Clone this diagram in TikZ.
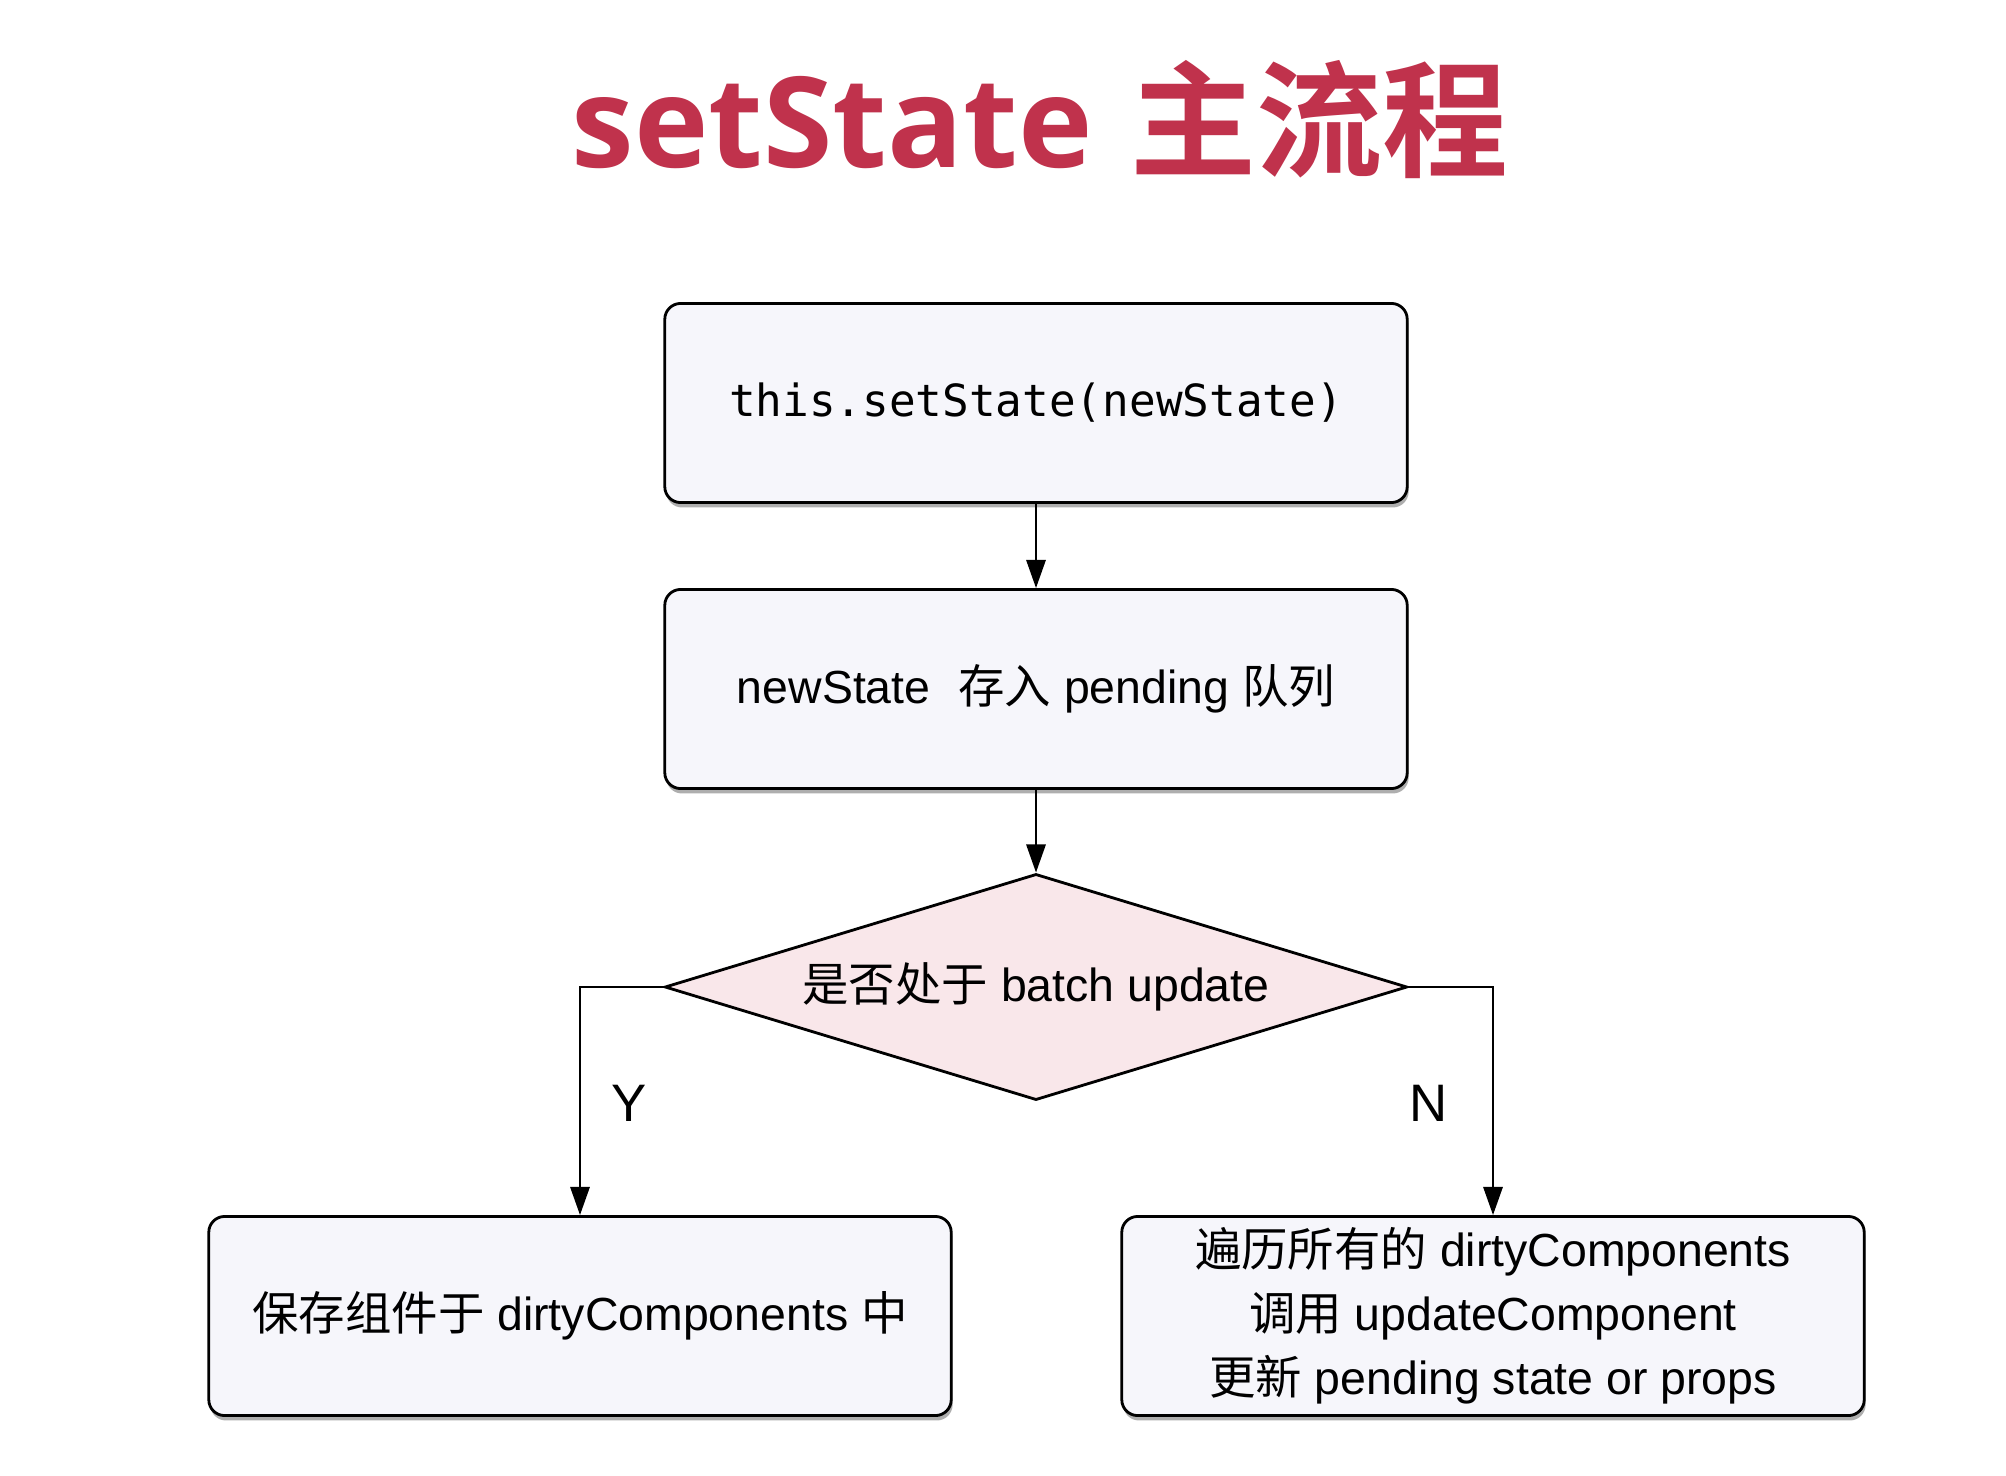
\documentclass[tikz,border=0pt]{standalone}
\usepackage{fontspec}
\setmainfont{Liberation Sans}
\setmonofont{DejaVu Sans Mono}
\newfontfamily\cjk{Noto Sans CJK SC}[BoldFont={Noto Sans CJK SC Bold}]
\newfontfamily\titlefont{Open Sans}
\usetikzlibrary{arrows.meta,shapes.geometric,shadows}
\definecolor{titlered}{RGB}{192,50,76}
\definecolor{boxfill}{RGB}{246,246,251}
\definecolor{diafill}{RGB}{249,231,234}
\tikzset{
  flowbox/.style={draw=black, line width=0.8pt, rounded corners=4.5pt, fill=boxfill,
    minimum width=7.42cm, minimum height=1.99cm, inner sep=0pt,
    drop shadow={shadow xshift=0.4pt, shadow yshift=-1.4pt, opacity=0.45, fill=black!70},
    font=\fontsize{13.2}{18.2}\selectfont, align=center},
  decision/.style={draw=black, line width=0.8pt, diamond, aspect=3.3, fill=diafill,
    minimum width=7.42cm, minimum height=2.26cm, inner sep=0pt,
    font=\fontsize{13.2}{16}\selectfont},
  flow/.style={draw=black, line width=0.6pt, -{Triangle[length=8pt,width=5.5pt]}},
  yn/.style={font=\fontsize{15}{18}\selectfont}
}
\begin{document}
\begin{tikzpicture}[x=0.01cm, y=-0.01cm]
\useasboundingbox[fill=white] (0,0) rectangle (2006,1476);
\node[anchor=base, text=titlered, inner sep=0pt] (title) at (1040,168)
  {\fontsize{35.8}{40}\selectfont{\titlefont\bfseries setState}\hspace{0.3em}{\cjk\bfseries 主流程}};
\node[flowbox] (b1) at (1036,403) {\fontsize{12.6}{15}\selectfont\ttfamily this.setState(newState)};
\node[flowbox] (b2) at (1036,689) {newState\hspace{0.6em}{\cjk 存入} pending {\cjk 队列}};
\node[decision] (d) at (1036,987) {{\cjk 是否处于} batch update};
\node[flowbox] (b3) at (580,1316) {{\cjk 保存组件于} dirtyComponents {\cjk 中}};
\node[flowbox] (b4) at (1493,1316) {{\cjk 遍历所有的} dirtyComponents\\{\cjk 调用} updateComponent\\{\cjk 更新} pending state or props};
\node[yn] (ylab) at (629,1103) {Y};
\node[yn] (nlab) at (1429,1103) {N};
\draw[flow] (b1.south) -- (b2.north);
\draw[flow] (b2.south) -- (d.north);
\draw[flow] (d.west) -| (b3.north);
\draw[flow] (d.east) -| (b4.north);
\end{tikzpicture}
\end{document}
